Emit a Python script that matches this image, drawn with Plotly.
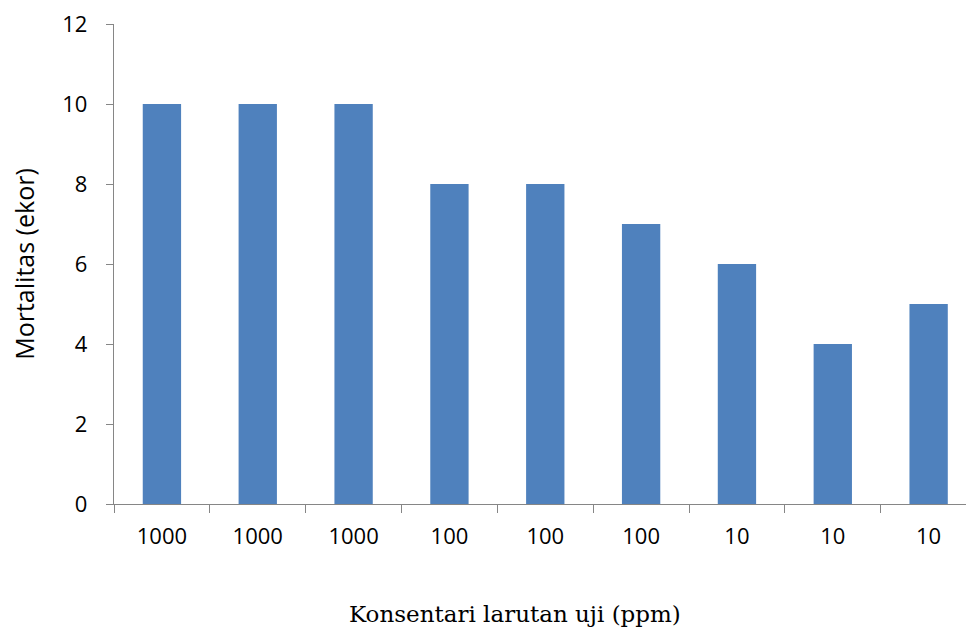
import plotly.graph_objects as go

sample_ids = ["s1", "s2", "s3", "s4", "s5", "s6", "s7", "s8", "s9"]
concentration_labels = ["1000", "1000", "1000", "100", "100", "100", "10", "10", "10"]
mortality = [10, 10, 10, 8, 8, 7, 6, 4, 5]

fig = go.Figure(
    go.Bar(x=sample_ids, y=mortality, marker=dict(color="#4F81BD", line=dict(width=0)))
)

axis_color = "#868686"
fig.update_layout(
    width=966, height=628,
    margin=dict(l=114, r=0, t=24, b=124),
    paper_bgcolor="white", plot_bgcolor="white",
    bargap=0.60,
    showlegend=False,
    font=dict(family="Open Sans, Liberation Sans, sans-serif", size=22, color="black"),
    xaxis=dict(
        type="category",
        tickmode="array", tickvals=sample_ids, ticktext=concentration_labels,
        tickson="boundaries",
        range=[-0.5, 8.39],
        showline=True, linecolor=axis_color, linewidth=1.3,
        ticks="outside", ticklen=8, tickcolor=axis_color, tickwidth=1.3,
        ticklabelstandoff=12,
        showgrid=False, zeroline=False,
    ),
    yaxis=dict(
        range=[0, 12], tickvals=[0, 2, 4, 6, 8, 10, 12],
        showline=True, linecolor=axis_color, linewidth=1.3,
        ticks="outside", ticklen=7, tickcolor=axis_color, tickwidth=1.3,
        ticklabelstandoff=14,
        showgrid=False, zeroline=False,
        title=dict(text="Mortalitas (ekor)", font=dict(size=25), standoff=20),
    ),
)

fig.add_annotation(
    text="Konsentari larutan uji (ppm)",
    xref="paper", yref="paper", x=(515 - 114) / 852, y=-(614 - 504) / 480,
    xanchor="center", yanchor="middle", showarrow=False,
    font=dict(family="DejaVu Serif, Liberation Serif, serif", size=23, color="black"),
)

fig.write_html(
    "out.html",
    config={"displayModeBar": False},
    post_script="document.body.style.margin='0';",
)
